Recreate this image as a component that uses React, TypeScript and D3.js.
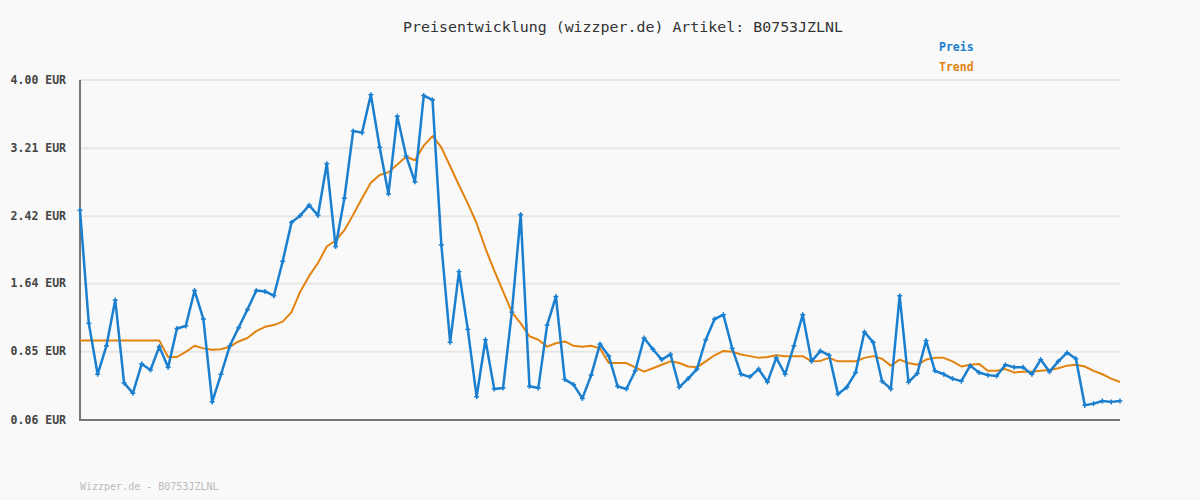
import React from "react";
import * as d3 from "d3";

const yTicks = [0.06, 0.85, 1.64, 2.42, 3.21, 4.0];
const yTickLabels = ["0.06 EUR", "0.85 EUR", "1.64 EUR", "2.42 EUR", "3.21 EUR", "4.00 EUR"];

const preis = [
  2.49, 1.18, 0.59, 0.92, 1.45, 0.49, 0.37, 0.71, 0.64, 0.91,
  0.67, 1.12, 1.15, 1.56, 1.23, 0.27, 0.59, 0.92, 1.13, 1.34,
  1.56, 1.55, 1.5, 1.9, 2.35, 2.43, 2.55, 2.43, 3.03, 2.07,
  2.63, 3.41, 3.39, 3.83, 3.22, 2.68, 3.58, 3.12, 2.82, 3.82,
  3.77, 2.09, 0.96, 1.78, 1.11, 0.33, 0.99, 0.42, 0.43, 1.31,
  2.44, 0.45, 0.43, 1.16, 1.49, 0.53, 0.47, 0.31, 0.58, 0.94,
  0.8, 0.45, 0.42, 0.63, 1.01, 0.88, 0.76, 0.82, 0.44, 0.54,
  0.65, 0.99, 1.23, 1.28, 0.89, 0.59, 0.56, 0.65, 0.5, 0.78,
  0.59, 0.92, 1.28, 0.74, 0.86, 0.81, 0.36, 0.44, 0.61, 1.08,
  0.96, 0.51, 0.42, 1.5, 0.5, 0.6, 0.98, 0.63, 0.59, 0.54,
  0.51, 0.69, 0.61, 0.58, 0.57, 0.7, 0.67, 0.67, 0.59, 0.76,
  0.62, 0.74, 0.84, 0.77, 0.23, 0.25, 0.28, 0.27, 0.28,
];

const trend = [
  0.98, 0.98, 0.98, 0.98, 0.98, 0.98, 0.98, 0.98, 0.98, 0.98,
  0.79, 0.79, 0.85, 0.92, 0.89, 0.875, 0.88, 0.91, 0.97, 1.01,
  1.09, 1.14, 1.16, 1.2, 1.31, 1.55, 1.73, 1.88, 2.07, 2.14,
  2.26, 2.44, 2.63, 2.81, 2.9, 2.93, 3.02, 3.11, 3.07, 3.24,
  3.35, 3.22, 3.0, 2.78, 2.57, 2.34, 2.05, 1.79, 1.55, 1.31,
  1.18, 1.03, 0.99, 0.91, 0.95, 0.97, 0.92, 0.91, 0.92, 0.89,
  0.72, 0.72, 0.72, 0.67, 0.62, 0.66, 0.7, 0.74, 0.72, 0.68,
  0.67, 0.74, 0.81, 0.86, 0.85, 0.82, 0.8, 0.78, 0.79, 0.81,
  0.8, 0.8, 0.8, 0.74, 0.745, 0.78, 0.74, 0.74, 0.74, 0.78,
  0.8, 0.77, 0.69, 0.76, 0.72, 0.7, 0.76, 0.78, 0.78, 0.74,
  0.68, 0.7, 0.71, 0.63, 0.63, 0.65, 0.61, 0.62, 0.62, 0.63,
  0.64, 0.66, 0.69, 0.7, 0.68, 0.63, 0.59, 0.54, 0.5,
];

const title = "Preisentwicklung (wizzper.de) Artikel: B0753JZLNL";
const footer = "Wizzper.de - B0753JZLNL";
const BLUE = "#1a7fcf";
const ORANGE = "#e2820f";
const MONO = "'DejaVu Sans Mono', 'Liberation Mono', monospace";

export default function App() {
  const W = 1200, H = 500;
  const left = 80, right = 1120, top = 80, bottom = 420;
  const x = d3.scaleLinear().domain([0, preis.length - 1]).range([left, right]);
  const y = d3.scaleLinear().domain([0.06, 4.0]).range([bottom, top]);
  const line = d3.line<number>().x((_, i) => x(i)).y((d) => y(d));

  return (
    <svg width={W} height={H} style={{ position: "absolute", left: 0, top: 0, display: "block" }}>
      <rect x={0} y={0} width={W} height={H} fill="#f9f9f9" />
      <text x={623} y={28} textAnchor="middle" dominantBaseline="middle" fontFamily={MONO}
        fontSize={14.5} fill="#333" textLength={440} lengthAdjust="spacingAndGlyphs">{title}</text>
      <text x={939} y={47} dominantBaseline="middle" fontFamily={MONO} fontSize={11.5} fontWeight="bold" fill="#1a7fcf">Preis</text>
      <text x={939} y={67} dominantBaseline="middle" fontFamily={MONO} fontSize={11.5} fontWeight="bold" fill={ORANGE}>Trend</text>
      {yTicks.map((t, i) => (
        <g key={i}>
          {i > 0 && <line x1={left} x2={right} y1={y(t)} y2={y(t)} stroke="#e6e6e6" strokeWidth={2} />}
          <text x={66} y={y(t)} textAnchor="end" dominantBaseline="middle" fontFamily={MONO}
            fontSize={11.5} fontWeight="bold" fill="#444">{yTickLabels[i]}</text>
        </g>
      ))}
      <line x1={left} x2={left} y1={top} y2={bottom + 1} stroke="#777" strokeWidth={2} />
      <line x1={left} x2={right} y1={bottom} y2={bottom} stroke="#777" strokeWidth={2} />
      <path d={line(trend) || ""} fill="none" stroke={ORANGE} strokeWidth={2} strokeLinejoin="round" />
      <path d={line(preis) || ""} fill="none" stroke={BLUE} strokeWidth={2.5} strokeLinejoin="round" />
      {preis.map((d, i) => (
        <g key={i} stroke={BLUE} strokeWidth={1.5}>
          <line x1={x(i) - 2.5} x2={x(i) + 2.5} y1={y(d)} y2={y(d)} />
          <line x1={x(i)} x2={x(i)} y1={y(d) - 2.5} y2={y(d) + 2.5} />
        </g>
      ))}
      <text x={80} y={487} dominantBaseline="middle" fontFamily={MONO} fontSize={10} fill="#bbb">{footer}</text>
    </svg>
  );
}
